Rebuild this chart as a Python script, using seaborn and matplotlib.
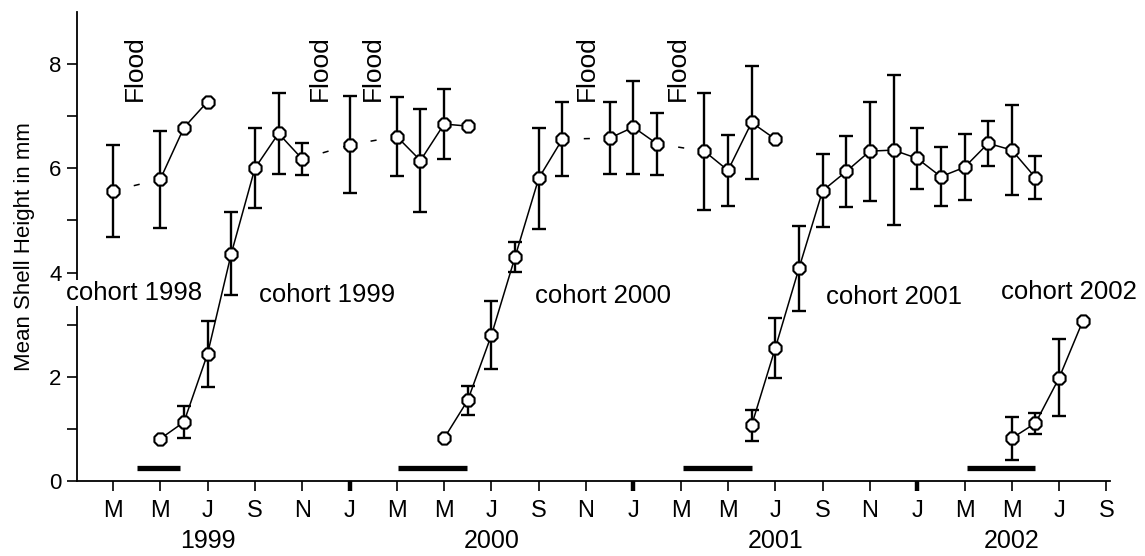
import numpy as np
import pandas as pd
import matplotlib
matplotlib.use("Agg")
import matplotlib.pyplot as plt
import seaborn as sns

# ---- data (x = month index, 0 = January 1999) ----
c1998_month = [2, 4, 5, 6]
c1998_mean = [5.57, 5.79, 6.78, 7.28]
c1998_sd = [0.88, 0.93, 0, 0]
c1998_gaps = [0]                      # segment i -> i+1 drawn dashed

c1999_month = [4, 5, 6, 7, 8, 9, 10, 12, 14, 15, 16, 17]
c1999_mean = [0.81, 1.13, 2.44, 4.36, 6.00, 6.67, 6.18, 6.45, 6.61, 6.15, 6.85, 6.81]
c1999_sd = [0, 0.31, 0.63, 0.80, 0.77, 0.78, 0.31, 0.93, 0.76, 0.99, 0.67, 0]
c1999_gaps = [6, 7]

c2000_month = [16, 17, 18, 19, 20, 21, 23, 24, 25, 27, 28, 29, 30]
c2000_mean = [0.82, 1.55, 2.80, 4.30, 5.81, 6.56, 6.58, 6.79, 6.47, 6.33, 5.96, 6.88, 6.56]
c2000_sd = [0, 0.28, 0.65, 0.29, 0.97, 0.71, 0.69, 0.89, 0.60, 1.12, 0.68, 1.09, 0]
c2000_gaps = [5, 8]

c2001_month = [29, 30, 31, 32, 33, 34, 35, 36, 37, 38, 39, 40, 41]
c2001_mean = [1.07, 2.55, 4.08, 5.57, 5.94, 6.33, 6.35, 6.19, 5.84, 6.02, 6.48, 6.35, 5.82]
c2001_sd = [0.30, 0.58, 0.82, 0.70, 0.68, 0.95, 1.44, 0.59, 0.56, 0.63, 0.43, 0.87, 0.41]
c2001_gaps = []

c2002_month = [40, 41, 42, 43]
c2002_mean = [0.82, 1.11, 1.98, 3.07]
c2002_sd = [0.41, 0.20, 0.74, 0]
c2002_gaps = []

cohort_names = ["cohort 1998", "cohort 1999", "cohort 2000", "cohort 2001", "cohort 2002"]
cohort_label_x = [2.89, 11.05, 22.72, 35.02, 42.42]
cohort_label_y = [3.61, 3.57, 3.55, 3.53, 3.63]

spawn_start = [3.0, 14.05, 26.1, 38.1]
spawn_end = [4.85, 16.97, 29.0, 41.0]
spawn_level = 0.25

flood_x = [2.93, 10.75, 13.0, 22.04, 25.9]
flood_y = 7.3

tick_months = list(range(2, 45, 2))
tick_labels = ["M", "M", "J", "S", "N", "J",
               "M", "M", "J", "S", "N", "J",
               "M", "M", "J", "S", "N", "J",
               "M", "M", "J", "S"]
year_labels = ["1999", "2000", "2001", "2002"]
year_x = [6, 18, 30, 40]

cohorts = [
    (c1998_month, c1998_mean, c1998_sd, c1998_gaps),
    (c1999_month, c1999_mean, c1999_sd, c1999_gaps),
    (c2000_month, c2000_mean, c2000_sd, c2000_gaps),
    (c2001_month, c2001_mean, c2001_sd, c2001_gaps),
    (c2002_month, c2002_mean, c2002_sd, c2002_gaps),
]

# ---- build tables ----
line_rows = []
pt_rows = []
seg = 0
for ci, (m, y, sd, gaps) in enumerate(cohorts):
    for i in range(len(m)):
        pt_rows.append(dict(cohort=ci, month=m[i], mean=y[i], sd=sd[i]))
    start = 0
    for i in range(len(m) - 1):
        if i in gaps:
            for j in range(start, i + 1):
                line_rows.append(dict(seg=seg, kind="solid", month=m[j], mean=y[j]))
            seg += 1
            line_rows.append(dict(seg=seg, kind="dashed", month=m[i], mean=y[i]))
            line_rows.append(dict(seg=seg, kind="dashed", month=m[i + 1], mean=y[i + 1]))
            seg += 1
            start = i + 1
    for j in range(start, len(m)):
        line_rows.append(dict(seg=seg, kind="solid", month=m[j], mean=y[j]))
    seg += 1

lines = pd.DataFrame(line_rows)
lines = lines.groupby("seg").filter(lambda d: len(d) > 1)
pts = pd.DataFrame(pt_rows)
err = pts[pts["sd"] > 0]

# ---- plot ----
sns.set_theme(style="ticks")
plt.rcParams["font.family"] = ["Liberation Sans", "DejaVu Sans"]
plt.rcParams["text.color"] = "black"
plt.rcParams["axes.labelcolor"] = "black"
plt.rcParams["xtick.color"] = "black"
plt.rcParams["ytick.color"] = "black"
plt.rcParams["xtick.labelcolor"] = "black"
plt.rcParams["ytick.labelcolor"] = "black"

fig = plt.figure(figsize=(11.45, 5.56), dpi=100)
ax = fig.add_axes([77 / 1145, 1 - 481 / 556, (1110 - 77) / 1145, (481 - 12) / 556])

sns.lineplot(data=lines, x="month", y="mean", units="seg", estimator=None,
             style="kind", dashes={"solid": "", "dashed": (4, 10)},
             color="black", linewidth=1.1, sort=False, legend=False, ax=ax, zorder=2)

ax.errorbar(err["month"], err["mean"], yerr=err["sd"], fmt="none", ecolor="black",
            elinewidth=1.7, capsize=5, capthick=1.7, zorder=3)

sns.scatterplot(data=pts, x="month", y="mean", marker="8", s=90, color="white",
                edgecolor="black", linewidth=1.5, ax=ax, zorder=4, legend=False)

ax.hlines([spawn_level] * len(spawn_start), spawn_start, spawn_end, colors="black",
          linewidth=3.8, zorder=3)

for xf in flood_x:
    ax.text(xf, flood_y, "Flood", rotation=90, ha="center", va="bottom", fontsize=19,
            color="black")

for name, xl, yl in zip(cohort_names, cohort_label_x, cohort_label_y):
    ax.text(xl, yl, name, ha="center", va="center", fontsize=18.5, zorder=6,
            color="black", bbox=dict(facecolor="white", edgecolor="none", pad=1.0))

ax.set_xlim(0.48, 44.15)
ax.set_ylim(0, 9)
ax.set_xticks(tick_months)
ax.set_xticklabels(tick_labels, fontsize=17)
ax.set_yticks([0, 2, 4, 6, 8])
ax.set_yticks([1, 3, 5, 7], minor=True)
ax.tick_params(axis="y", which="both", direction="out", length=7, width=1.2,
               labelsize=16, pad=4, color="black", labelcolor="black")
ax.tick_params(axis="x", which="major", direction="out", length=7, width=1.2,
               pad=7, color="black", labelcolor="black")
for t, lab in zip(ax.xaxis.get_major_ticks(), tick_months):
    if lab % 12 == 0:
        t.tick1line.set_markeredgewidth(3.2)

trans = ax.get_xaxis_transform()
for yr, xy in zip(year_labels, year_x):
    ax.text(xy, -0.128, yr, transform=trans, ha="center", va="center", fontsize=18,
            color="black")

ax.set_xlabel("")
ax.set_ylabel("Mean Shell Height in mm", fontsize=16, labelpad=10, color="black")
sns.despine(ax=ax)
for sp in ["left", "bottom"]:
    ax.spines[sp].set_linewidth(1.3)
    ax.spines[sp].set_color("black")

fig.savefig("out.png", dpi=100, facecolor="white")
